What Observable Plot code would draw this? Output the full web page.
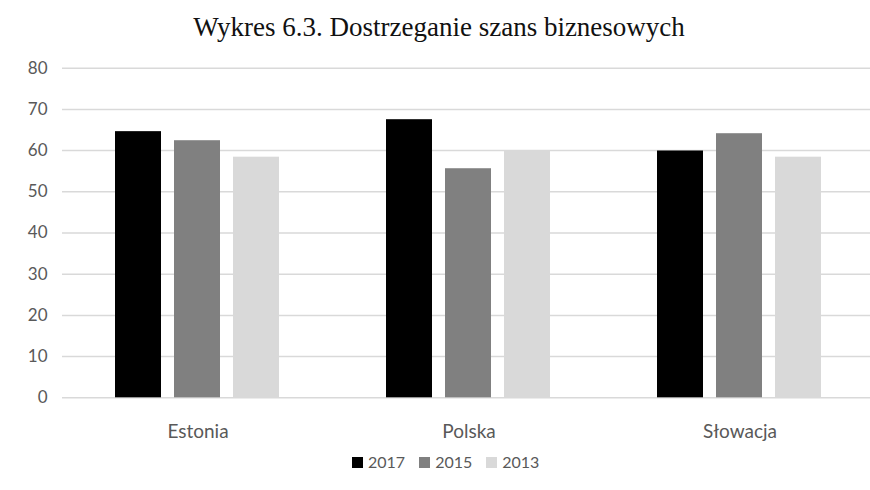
<!DOCTYPE html>
<html>
<head>
<meta charset="utf-8">
<script src="https://cdn.jsdelivr.net/npm/d3@7"></script>
<script src="https://cdn.jsdelivr.net/npm/@observablehq/plot@0.6"></script>
<style>
  html, body { margin: 0; padding: 0; overflow: hidden; background: #fff; }
  body { position: relative; width: 870px; height: 490px; }
  #title { position: absolute; left: 4px; top: 14px; width: 870px; text-align: center;
    font-family: "Liberation Serif", "Times New Roman", serif; font-size: 27px; line-height: 27px; color: #111; }
  #chart { position: absolute; left: 0; top: 50px; }
  #legend { position: absolute; left: 352px; top: 450px; display: flex; align-items: center;
    font-family: Lato, sans-serif; font-size: 16px; color: #595959; line-height: 24px; }
  #legend .item { display: flex; align-items: center; margin-right: 14px; }
  #legend .sw { width: 11px; height: 11px; margin-right: 5px; }
</style>
</head>
<body>
<div id="title">Wykres 6.3. Dostrzeganie szans biznesowych</div>
<div id="chart"></div>
<div id="legend"></div>
<script>
const countries = ["Estonia", "Polska", "Słowacja"];
const years = ["2017", "2015", "2013"];
const v2017 = [64.6, 67.5, 59.9];
const v2015 = [62.4, 55.6, 64.1];
const v2013 = [58.4, 59.9, 58.4];
const yTicks = [0, 10, 20, 30, 40, 50, 60, 70, 80];
const colors = ["#000000", "#808080", "#d9d9d9"];

const series = [v2017, v2015, v2013];
const data = [];
countries.forEach((c, i) => {
  years.forEach((y, j) => {
    data.push({country: c, year: y, value: series[j][i]});
  });
});

const chart = Plot.plot({
  width: 870,
  height: 395,
  marginTop: 17.7,
  marginBottom: 47.7,
  marginLeft: 61,
  marginRight: 0,
  style: {fontFamily: "Lato, sans-serif", overflow: "visible"},
  fx: {domain: countries, range: [61, 875.5], paddingInner: 0, paddingOuter: 0, label: null},
  x: {domain: years, paddingInner: 0.2167, paddingOuter: 0.871, axis: null},
  y: {domain: [0, 80], label: null},
  color: {domain: years, range: colors},
  marks: [
    Plot.ruleY(yTicks, {stroke: "#d9d9d9", strokeWidth: 1.5}),
    Plot.barY(data, {fx: "country", x: "year", y: "value", fill: "year"}),
    Plot.axisY({ticks: yTicks, tickSize: 0, tickPadding: 15, label: null, fontSize: 17, fill: "#595959"}),
    Plot.axisFx({anchor: "bottom", tickSize: 0, tickPadding: 27, label: null, fontSize: 19, fill: "#595959"})
  ]
});
document.getElementById("chart").appendChild(chart);

const legend = document.getElementById("legend");
years.forEach((y, i) => {
  const item = document.createElement("div");
  item.className = "item";
  const sw = document.createElement("div");
  sw.className = "sw";
  sw.style.background = colors[i];
  const t = document.createElement("span");
  t.textContent = y;
  item.appendChild(sw);
  item.appendChild(t);
  legend.appendChild(item);
});
</script>
</body>
</html>
